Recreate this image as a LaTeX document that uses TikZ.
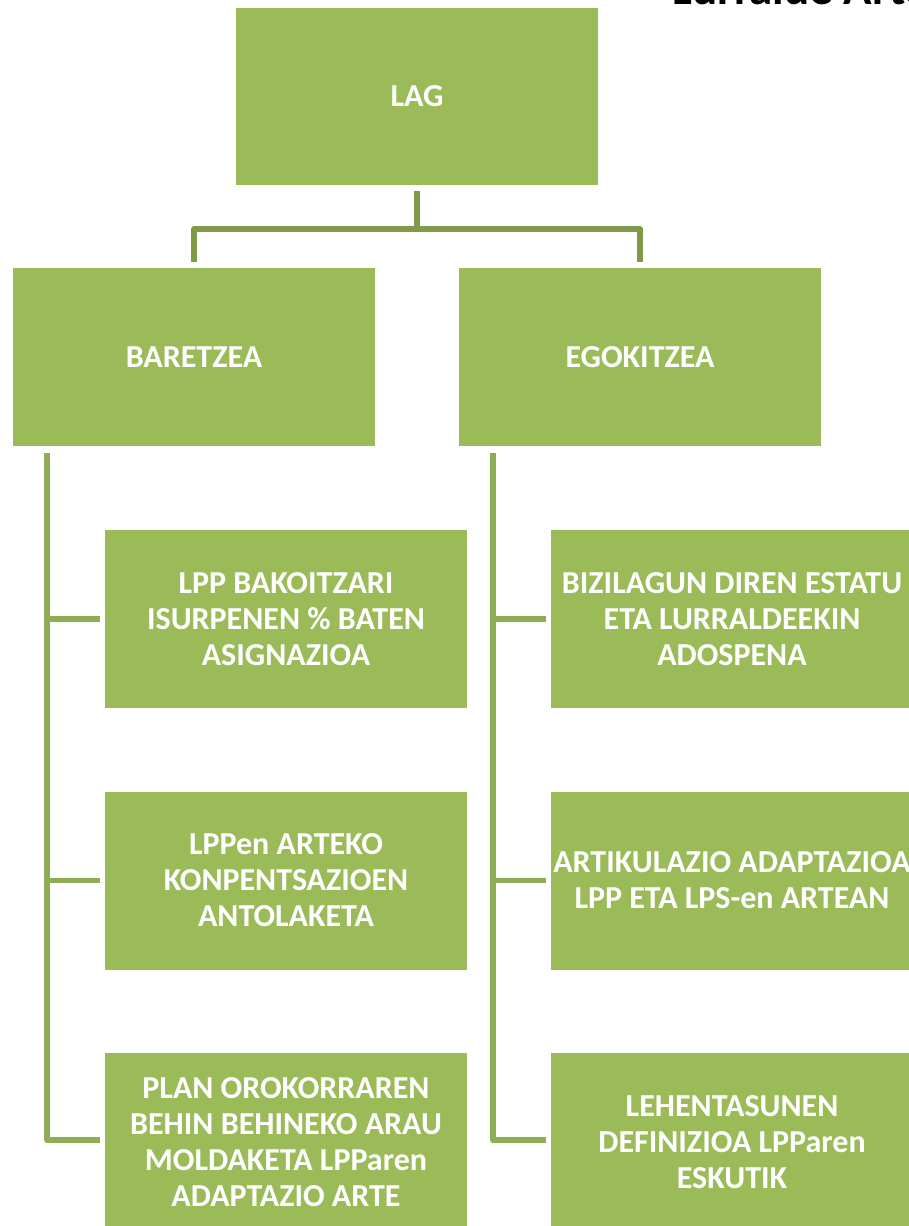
\documentclass[tikz,border=0pt]{standalone}
\usepackage{fontspec}
\setmainfont{Carlito}
\definecolor{boxgreen}{HTML}{9BBB59}
\definecolor{topline}{HTML}{7F9A48}
\definecolor{sideline}{HTML}{8FAD52}
\begin{document}
\begin{tikzpicture}[x=1pt,y=-1pt,
  gbox/.style={rectangle, fill=boxgreen, draw=none, text=white, align=center,
    minimum width=362pt, minimum height=178pt, inner sep=0pt,
    font=\fontsize{32}{36}\selectfont\bfseries},
  conntop/.style={draw=topline, line width=5.5pt, line join=round},
  connside/.style={draw=sideline, line width=5.5pt, line join=round}]
\useasboundingbox (0,0) rectangle (909,1226);
% title fragment at the top right
\node[anchor=base west, inner sep=0pt, font=\fontsize{47}{56}\selectfont\bfseries] (title) at (672,5) {Lurralde Arte};
% top level
\node[gbox, minimum height=177pt] (lag) at (417,96.5) {LAG};
\node[gbox] (bar) at (194,357) {BARETZEA};
\node[gbox] (ego) at (640,357) {EGOKITZEA};
% left children
\node[gbox] (l1) at (286,619) {LPP BAKOITZARI\\ISURPENEN \% BATEN\\ASIGNAZIOA};
\node[gbox] (l2) at (286,880.5) {LPPen ARTEKO\\KONPENTSAZIOEN\\ANTOLAKETA};
\node[gbox] (l3) at (286,1142) {PLAN OROKORRAREN\\BEHIN BEHINEKO ARAU\\MOLDAKETA LPParen\\ADAPTAZIO ARTE};
% right children
\node[gbox] (r1) at (732,619) {BIZILAGUN DIREN ESTATU\\ETA LURRALDEEKIN\\ADOSPENA};
\node[gbox] (r2) at (732,880.5) {ARTIKULAZIO ADAPTAZIOA\\LPP ETA LPS-en ARTEAN};
\node[gbox] (r3) at (732,1142) {LEHENTASUNEN\\DEFINIZIOA LPParen\\ESKUTIK};
% top connectors
\coordinate (mid) at (417,229);
\draw[conntop] ([yshift=-6pt]lag.south) -- (mid);
\draw[conntop] ([yshift=6pt]bar.north) |- (mid) -| ([yshift=6pt]ego.north);
% left side connectors
\coordinate (ltop) at (47,453);
\draw[connside] (ltop) |- ([xshift=-5pt,yshift=2pt]l3.west);
\draw[connside] ([xshift=-5pt]l1.west) -- (l1.west -| ltop);
\draw[connside] ([xshift=-5pt]l2.west) -- (l2.west -| ltop);
% right side connectors
\coordinate (rtop) at (493,453);
\draw[connside] (rtop) |- ([xshift=-5pt,yshift=2pt]r3.west);
\draw[connside] ([xshift=-5pt]r1.west) -- (r1.west -| rtop);
\draw[connside] ([xshift=-5pt]r2.west) -- (r2.west -| rtop);
\end{tikzpicture}
\end{document}
